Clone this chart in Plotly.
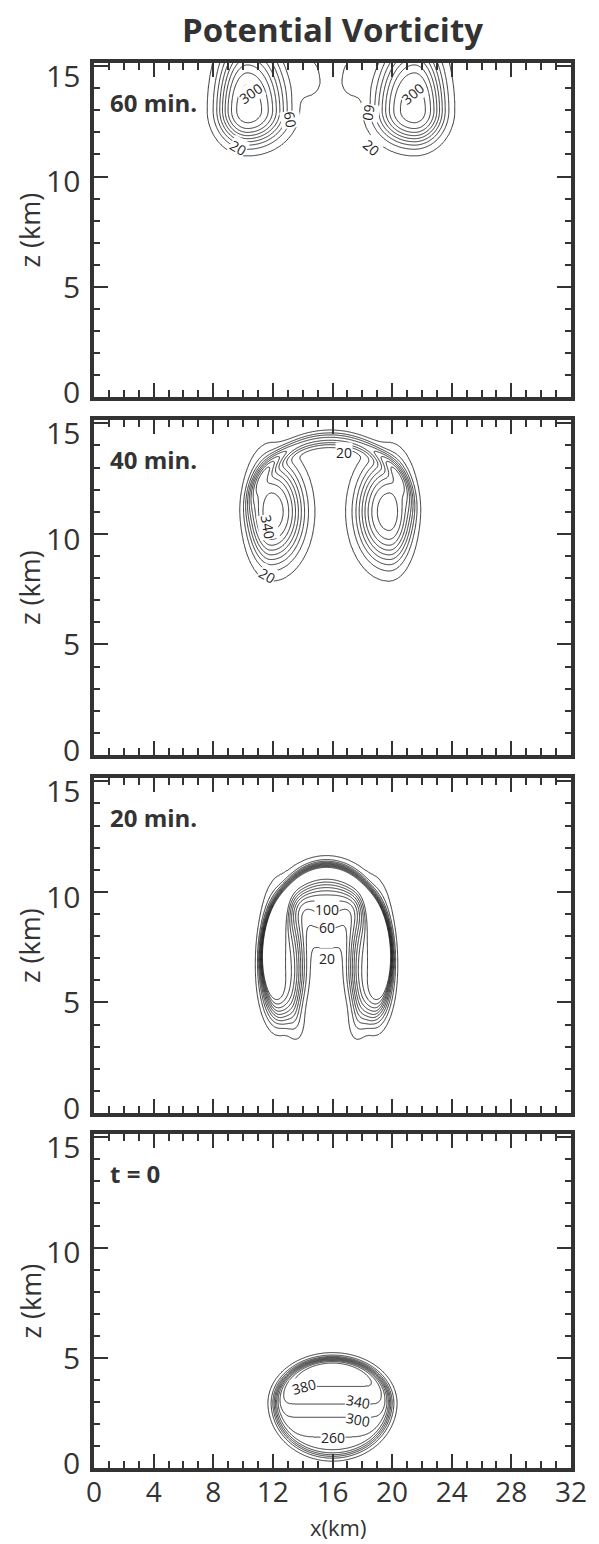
import numpy as np
import plotly.graph_objects as go

# Contour levels of potential vorticity
LEVEL_START, LEVEL_END, LEVEL_STEP = 20, 380, 40

PANEL_TITLES = ["60 min.", "40 min.", "20 min.", "t = 0"]
X_RANGE = [0, 32]
Z_RANGE = [0, 15.15]
Z_TICK_LABELS = [0, 5, 10, 15]

# PV anomalies per time: (x0, z0, sx_left, sx_right, sz_down, sz_up, peak, shape exponent)
BLOBS_60 = [
    (10.3, 13.0, 1.9, 2.45, 1.45, 3.0, 360, 3),
    (21.5, 13.0, 2.45, 1.9, 1.45, 3.0, 360, 3),
    (14.4, 14.3, 0.9, 0.9, 0.7, 1.2, 40, 2),
    (17.4, 14.3, 0.9, 0.9, 0.7, 1.2, 40, 2),
]
BLOBS_40 = [
    (11.9, 11.0, 1.45, 2.05, 2.2, 2.2, 360, 3),
    (19.8, 11.0, 2.05, 1.45, 2.2, 2.2, 360, 3),
]
BLOBS_20 = [
    (12.4, 6.5, 1.2, 1.6, 2.3, 3.0, 360, 4),
    (18.8, 6.5, 1.6, 1.2, 2.3, 3.0, 360, 4),
    (13.5, 4.3, 0.5, 0.5, 0.9, 1.2, 50, 2),
    (17.7, 4.3, 0.5, 0.5, 0.9, 1.2, 50, 2),
    (15.6, 9.9, 2.4, 2.4, 1.8, 1.2, 130, 2),
]
# PV shells: (x0, z0, ax_left, ax_right, az_down, az_up, width_in, width_out, peak, z_cut)
SHELLS_40 = [(15.85, 10.8, 5.4, 5.4, 3.5, 3.5, 0.08, 0.08, 150, 11.5)]
SHELLS_20 = [(15.6, 7.0, 4.1, 4.1, 4.0, 4.0, 0.2, 0.075, 380, 6.0)]

# Initial thermal bubble: outline and interior PV profile with height
BUBBLE_T0 = (16.0, 2.9, 3.85, 3.85, 2.35, 2.05, 0.045)
T0_Z = [0.0, 1.4, 2.3, 2.9, 3.7, 5.2]
T0_PV = [200, 260, 300, 340, 380, 450]

# Grid extents per panel: (x_min, x_max, z_min, z_max)
GRIDS = [(5.0, 27.0, 9.5, 15.2), (7.0, 25.0, 6.8, 15.2),
         (9.0, 22.5, 2.6, 12.2), (10.5, 21.5, 0.0, 6.0)]
STEP = 0.04

# Contour label text, position (x, z) and angle
LABELS = [
    [("300", 10.5, 13.75, -35), ("300", 21.4, 13.75, -40), ("60", 13.2, 12.6, 80),
     ("60", 18.45, 12.9, 100), ("20", 9.65, 11.3, 30), ("20", 18.6, 11.3, 40)],
    [("20", 16.8, 13.7, 0), ("340", 11.7, 10.3, 80), ("20", 11.6, 8.1, 30)],
    [("100", 15.6, 9.2, 0), ("60", 15.6, 8.4, 0), ("20", 15.6, 7.0, 0)],
    [("380", 14.1, 3.7, -15), ("340", 17.7, 3.0, 10), ("300", 17.7, 2.2, 10), ("260", 16.0, 1.4, 0)],
]

INK = "#333333"
FONT = "Open Sans"


def egg_radius(X, Z, x0, z0, sxl, sxr, szd, szu):
    dx = np.where(X < x0, (X - x0) / sxl, (X - x0) / sxr)
    dz = np.where(Z < z0, (Z - z0) / szd, (Z - z0) / szu)
    return np.sqrt(dx ** 2 + dz ** 2)


def build_field(i, X, Z):
    F = np.zeros_like(X)
    blobs = [BLOBS_60, BLOBS_40, BLOBS_20, []][i]
    shells = [[], SHELLS_40, SHELLS_20, []][i]
    for x0, z0, sxl, sxr, szd, szu, amp, p in blobs:
        r = egg_radius(X, Z, x0, z0, sxl, sxr, szd, szu)
        F += amp * np.exp(-r ** p)
    for x0, z0, axl, axr, azd, azu, win, wout, amp, zc in shells:
        r = egg_radius(X, Z, x0, z0, axl, axr, azd, azu)
        d = r - 1.0
        w = np.where(d < 0, win, wout)
        F += amp * np.exp(-(d / w) ** 2) / (1.0 + np.exp(-(Z - zc) / 0.6))
    if i == 3:
        x0, z0, axl, axr, azd, azu, w = BUBBLE_T0
        r = egg_radius(X, Z, x0, z0, axl, axr, azd, azu)
        F += np.interp(Z, T0_Z, T0_PV) / (1.0 + np.exp((r - 1.0) / w))
    return np.round(F).astype(int)


# Panel placement in paper coordinates (top to bottom)
DOMAINS = [[0.7623, 1.0], [0.5075, 0.7459], [0.2527, 0.4911], [0.0, 0.2377]]

fig = go.Figure()
annotations = []

for i in range(4):
    xa = "x" if i == 0 else f"x{i+1}"
    ya = "y" if i == 0 else f"y{i+1}"
    x_min, x_max, z_min, z_max = GRIDS[i]
    xs = np.arange(x_min, x_max + 1e-9, STEP)
    zs = np.arange(z_min, z_max + 1e-9, STEP)
    X, Z = np.meshgrid(xs, zs)
    F = build_field(i, X, Z)
    fig.add_trace(go.Contour(
        x=np.round(xs, 3), y=np.round(zs, 3), z=F,
        contours=dict(start=LEVEL_START, end=LEVEL_END, size=LEVEL_STEP,
                      coloring="none", showlabels=False),
        line=dict(color="#1a1a1a", width=0.9, smoothing=1),
        showscale=False, hoverinfo="skip",
        xaxis=xa, yaxis=ya,
    ))

    for text, lx, lz, ang in LABELS[i]:
        annotations.append(dict(
            x=lx, y=lz, xref=xa, yref=ya, text=text, showarrow=False,
            textangle=ang, bgcolor="white", borderpad=0,
            font=dict(family=FONT, size=14, color="#222222"),
        ))

    # z tick labels, set slightly inward from the frame edges
    for v in Z_TICK_LABELS:
        annotations.append(dict(
            x=-0.027, y=0.23 + 0.958 * v, xref="paper", yref=ya, text=str(v),
            showarrow=False, xanchor="right", yanchor="middle", borderpad=0,
            font=dict(family=FONT, size=30, color=INK),
        ))

    annotations.append(dict(
        x=0.95, y=13.35, xref=xa, yref=ya, text=f"<b>{PANEL_TITLES[i]}</b>",
        showarrow=False, xanchor="left", yanchor="middle",
        font=dict(family=FONT, size=24, color=INK),
    ))
    annotations.append(dict(
        x=-0.135, y=0.5, xref="paper", yref=f"{ya} domain", text="z (km)",
        showarrow=False, textangle=-90, xanchor="center", yanchor="middle",
        font=dict(family=FONT, size=27, color=INK),
    ))

    axis_common = dict(
        showline=True, linewidth=3.5, linecolor=INK, mirror="ticks",
        ticks="inside", ticklen=14, tickwidth=2, tickcolor=INK,
        showgrid=False, zeroline=False,
        tickfont=dict(family=FONT, size=28, color=INK),
    )
    fig.layout[("xaxis" if i == 0 else f"xaxis{i+1}")] = dict(
        axis_common, domain=[0, 1], range=X_RANGE, anchor=ya,
        tickmode="linear", tick0=0, dtick=4, showticklabels=(i == 3),
        ticklabeloverflow="allow", ticklabelstandoff=-3,
        minor=dict(dtick=1, tick0=0, ticks="inside", ticklen=7, tickwidth=1.8, tickcolor=INK),
    )
    fig.layout[("yaxis" if i == 0 else f"yaxis{i+1}")] = dict(
        axis_common, domain=DOMAINS[i], range=Z_RANGE, anchor=xa,
        tickmode="linear", tick0=0, dtick=5, showticklabels=False,
        minor=dict(dtick=1, tick0=0, ticks="inside", ticklen=6, tickwidth=1.8, tickcolor=INK),
    )

annotations.append(dict(
    x=0.5, y=1.0235, xref="paper", yref="paper", text="<b>Potential Vorticity</b>",
    showarrow=False, xanchor="center", yanchor="middle",
    font=dict(family=FONT, size=33, color=INK),
))
annotations.append(dict(
    x=0.511, y=-0.0535, xref="paper", yref="paper", text="x(km)",
    showarrow=False, xanchor="center", yanchor="bottom", borderpad=0,
    font=dict(family=FONT, size=22, color=INK),
))

fig.update_layout(
    width=599, height=1544,
    margin=dict(l=94, r=14, t=63, b=76),
    paper_bgcolor="white", plot_bgcolor="white",
    showlegend=False, annotations=annotations,
)

fig.write_html("out.html")
